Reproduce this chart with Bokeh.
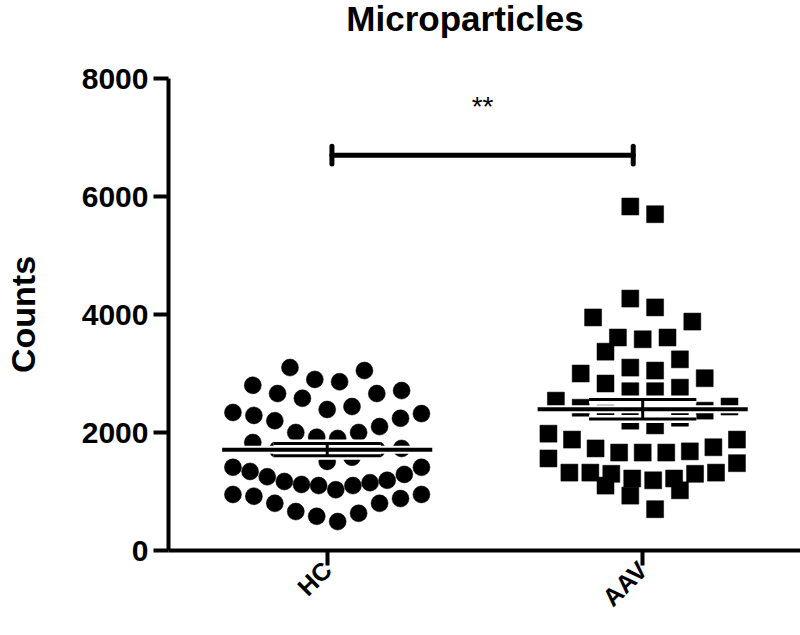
import numpy as np
from bokeh.plotting import figure
from bokeh.models import Range1d, FixedTicker, Div
from bokeh.layouts import column
from bokeh.embed import file_html
from bokeh.resources import INLINE
from bokeh.core.properties import value

# ---------------- data ----------------
categories = ["HC", "AAV"]
hc_counts = [3050, 3100, 2860, 2900, 2800, 2660, 2580, 2660, 2710, 2390,
             2290, 2320, 2340, 2440, 2200, 2100, 2240, 2000, 1920, 1900,
             2000, 1830, 1710, 1700, 1710, 1730, 1510, 1410, 1410, 1580,
             1340, 1250, 1170, 1120, 1100, 950, 950, 1030, 1100, 1150,
             1190, 1290, 880, 800, 630, 490, 580, 660, 800, 920]
aav_counts = [5830, 5700, 4270, 4120, 3880, 3950, 3610, 3580, 3610, 3370,
              3240, 3050, 2920, 2760, 2700, 2700, 2830, 3000, 3100, 2540,
              2420, 2320, 2200, 2120, 2250, 2370, 2440, 1980, 1880, 1730,
              1660, 1660, 1660, 1680, 1750, 1880, 1560, 1320, 1320, 1300,
              1220, 1190, 1220, 1300, 1320, 1480, 1020, 930, 1100, 700]
y_ticks = [0, 2000, 4000, 6000, 8000]
significance = "**"
title = "Microparticles"
y_label = "Counts"

# ---------------- layout ----------------
W = 800
TITLE_H = 40
BL, BR, BT, BB = 163, 0, 38, 84
FH = 472
H = BT + FH + BB
FW = W - BL - BR
X0 = 0.497
UNIT = 318.0               # px per category unit
X1 = X0 + FW / UNIT
Y0, Y1 = 0, 8000
FONT = "Liberation Sans"


def row_offsets(vals, bin_width, step_px=25.0, max_span_px=190.0):
    """Scatter-dot layout: values are binned in rows; inside a row the points
    sit side by side, the lowest at the centre, alternating outwards."""
    vals = np.asarray(vals, dtype=float)
    offs = np.zeros(len(vals))
    rows = np.floor((vals - vals.min()) / bin_width).astype(int)
    for r in np.unique(rows):
        idx = np.where(rows == r)[0]
        idx = idx[np.argsort(vals[idx], kind="stable")]
        n = len(idx)
        step = step_px if n < 2 else min(step_px, max_span_px / (n - 1))
        slots = (np.arange(n) - (n - 1) / 2.0) * step
        slot_order = sorted(range(n), key=lambda j: (round(abs(slots[j]), 6), -slots[j]))
        for k, i in enumerate(idx):
            offs[i] = slots[slot_order[k]] / UNIT
    return offs


head = Div(text=title, width=W, height=TITLE_H, margin=0,
           styles={"font-family": FONT, "font-size": "35px", "font-weight": "bold",
                   "line-height": "38px", "text-align": "center", "color": "black",
                   "padding-left": "130px", "box-sizing": "border-box",
                   "overflow": "visible"})

p = figure(width=W, height=H, output_backend="svg", toolbar_location=None,
           x_range=Range1d(X0, X1), y_range=Range1d(Y0, Y1),
           min_border_left=BL, min_border_right=BR,
           min_border_top=BT, min_border_bottom=BB)
p.outline_line_color = None
p.xgrid.visible = False
p.ygrid.visible = False
p.background_fill_color = "white"
p.border_fill_color = "white"

groups = [(hc_counts, "circle"), (aav_counts, "square")]
for k, (vals, marker) in enumerate(groups):
    xc = k + 1
    offs = row_offsets(vals, 470)
    p.scatter(x=xc + offs, y=vals, marker=marker, size=17,
              fill_color="black", line_color="black", line_width=0.5)

for k, (vals, marker) in enumerate(groups):
    xc = k + 1
    arr = np.asarray(vals, dtype=float)
    m = arr.mean()
    s = arr.std(ddof=1) / np.sqrt(len(arr))
    wm, wc = 0.333, 0.17
    xs0 = [xc - wm, xc - wc, xc - wc, xc]
    xs1 = [xc + wm, xc + wc, xc + wc, xc]
    ys0 = [m, m + s, m - s, m - s]
    ys1 = [m, m + s, m - s, m + s]
    p.segment(x0=xs0, y0=ys0, x1=xs1, y1=ys1, line_color="white", line_width=8)
    p.segment(x0=xs0[:1], y0=ys0[:1], x1=xs1[:1], y1=ys1[:1], line_color="black", line_width=4)
    p.segment(x0=xs0[1:], y0=ys0[1:], x1=xs1[1:], y1=ys1[1:], line_color="black", line_width=3)

# significance bracket
bx0, bx1, by, cap = 1.015, 1.97, 6700, 150
p.segment(x0=[bx0, bx0, bx1], y0=[by, by - cap, by - cap],
          x1=[bx1, bx0, bx1], y1=[by, by + cap, by + cap],
          line_color="black", line_width=5, line_cap="round")
p.text(x=[(bx0 + bx1) / 2], y=[7520], text=[significance], text_align="center",
       text_baseline="middle", text_font=value(FONT), text_font_size="28px",
       text_color="black")

# axes
for ax in (p.xaxis[0], p.yaxis[0]):
    ax.axis_line_width = 4
    ax.axis_line_color = "black"
    ax.major_tick_line_width = 4
    ax.major_tick_line_color = "black"
    ax.major_tick_out = 15
    ax.major_tick_in = 0
    ax.minor_tick_line_color = None
    ax.major_label_text_font = FONT
    ax.major_label_text_font_style = "bold"
    ax.major_label_text_color = "black"

p.yaxis.ticker = FixedTicker(ticks=y_ticks)
p.yaxis.major_label_text_font_size = "30px"
p.yaxis.major_label_standoff = 5
p.yaxis.axis_label = y_label
p.yaxis.axis_label_text_font = FONT
p.yaxis.axis_label_text_font_size = "34px"
p.yaxis.axis_label_text_font_style = "bold"
p.yaxis.axis_label_text_color = "black"
p.yaxis.axis_label_standoff = 37

p.xaxis.ticker = FixedTicker(ticks=[1, 2])
p.xaxis.major_label_overrides = {i + 1: c for i, c in enumerate(categories)}
p.xaxis.major_label_orientation = np.pi / 4
p.xaxis.major_label_text_font_size = "25px"
p.xaxis.major_label_standoff = 0

layout = column(head, p, spacing=0)
open("out.html", "w").write(file_html(layout, INLINE))
